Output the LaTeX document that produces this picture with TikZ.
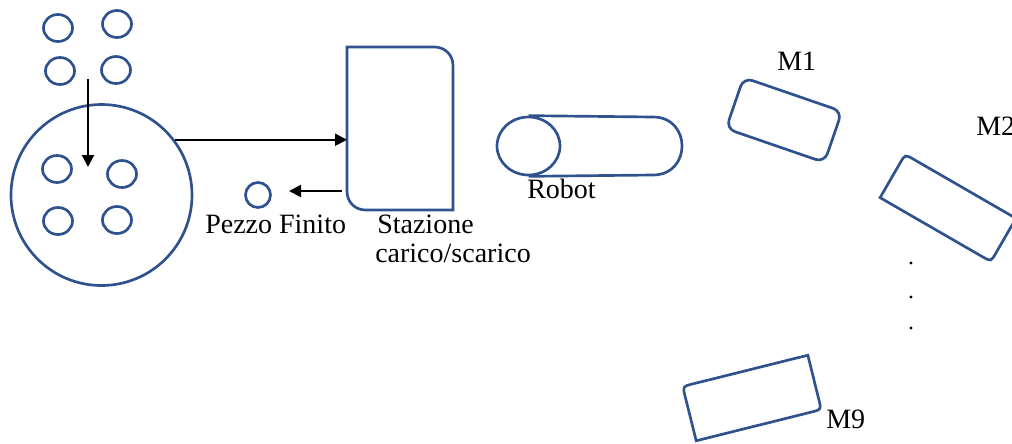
\documentclass[tikz,border=0pt]{standalone}
\usepackage{fontspec}
\setmainfont{Liberation Serif}
\usetikzlibrary{arrows.meta,shapes.geometric,calc}
\definecolor{shapeblue}{RGB}{47,82,143}
\begin{document}
\begin{tikzpicture}[x=0.75pt,y=-0.75pt,
  shp/.style={draw=shapeblue,line width=2pt},
  piece/.style={shp,ellipse,inner sep=0pt,minimum width=21.75pt,minimum height=20.25pt},
  ghost/.style={draw=none,inner sep=0pt,outer sep=0pt},
  lbl/.style={inner sep=0pt,anchor=base west,font=\fontsize{21pt}{25pt}\selectfont},
  arr/.style={draw=black,line width=1.5pt,-{Triangle[length=9pt,width=9pt]}}]
\path[use as bounding box] (0,0) rectangle (1012,443);
\clip (0,0) rectangle (1012,443);
% raw pieces
\node[piece] (r1) at (58,28) {};
\node[piece] (r2) at (117,24) {};
\node[piece] (r3) at (60,71) {};
\node[piece] (r4) at (116,70) {};
% table
\node[shp,circle,inner sep=0pt,minimum size=135.75pt] (table) at (101.5,195) {};
\node[piece] (p1) at (57,169) {};
\node[piece] (p2) at (122,174) {};
\node[piece] (p3) at (58,221) {};
\node[piece] (p4) at (117,220) {};
\coordinate (downs) at (88,79);
\coordinate (downe) at (88,167);
\draw[arr] (downs) -- (downe);
% station
\node[ghost,minimum width=79.5pt,minimum height=122.25pt] (station) at (400,128.5) {};
\draw[shp] (station.north west) -- ([xshift=-14pt]station.north east)
  .. controls ([xshift=-6pt]station.north east) and ([yshift=-6pt]station.north east) .. ([yshift=-14pt]station.north east)
  -- (station.south east) -- ([xshift=14pt]station.south west)
  .. controls ([xshift=6pt]station.south west) and ([yshift=6pt]station.south west) .. ([yshift=14pt]station.south west) -- cycle;
\draw[arr] (table.37) -- (table.37 -| station.west);
% finished piece
\node[shp,circle,inner sep=0pt,minimum size=18.75pt] (fin) at (258,195) {};
\coordinate (outs) at (342,191);
\coordinate (oute) at (289,191);
\draw[arr] (outs) -- (oute);
\node[lbl] (finl) at (205,233) {Pezzo Finito};
\node[lbl] (stl1) at (377,233) {Stazione};
\node[lbl] (stl2) at (375,262) {carico/scarico};
% robot
\node[shp,ellipse,inner sep=0pt,minimum width=47.25pt,minimum height=43.5pt] (robot) at (528.5,146) {};
\coordinate (rtop) at (653,117);
\coordinate (rbot) at (653,175);
\draw[shp] (robot.north) -- (rtop) .. controls (691.7,117) and (691.7,175) .. (rbot) -- (robot.south);
\node[lbl] (robl) at (527,198) {Robot};
% M1
\node[shp,rotate=-19,minimum width=78pt,minimum height=40.5pt,rounded corners=7pt] (m1) at (784,120) {};
\node[lbl] (m1l) at (777,70) {M1};
% M2
\node[ghost,rotate=-30,minimum width=96pt,minimum height=37.5pt] (m2) at (948,208) {};
\draw[shp] (m2.south west) -- ($(m2.north west)!7.5pt!(m2.south west)$)
  .. controls (m2.north west) .. ($(m2.north west)!7.5pt!(m2.north east)$)
  -- (m2.north east) -- ($(m2.south east)!7.5pt!(m2.north east)$)
  .. controls (m2.south east) .. ($(m2.south east)!7.5pt!(m2.south west)$) -- cycle;
\node[lbl] (m2l) at (976,135) {M2};
% dots
\fill (911,263) circle[radius=1.2pt];
\fill (911,297) circle[radius=1.2pt];
\fill (911,328) circle[radius=1.2pt];
% M9
\node[ghost,rotate=14,minimum width=96.75pt,minimum height=42pt] (m9) at (752,398) {};
\draw[shp] (m9.south west) -- ($(m9.north west)!7.5pt!(m9.south west)$)
  .. controls (m9.north west) .. ($(m9.north west)!7.5pt!(m9.north east)$)
  -- (m9.north east) -- ($(m9.south east)!7.5pt!(m9.north east)$)
  .. controls (m9.south east) .. ($(m9.south east)!7.5pt!(m9.south west)$) -- cycle;
\node[lbl] (m9l) at (826,428) {M9};
\end{tikzpicture}
\end{document}
